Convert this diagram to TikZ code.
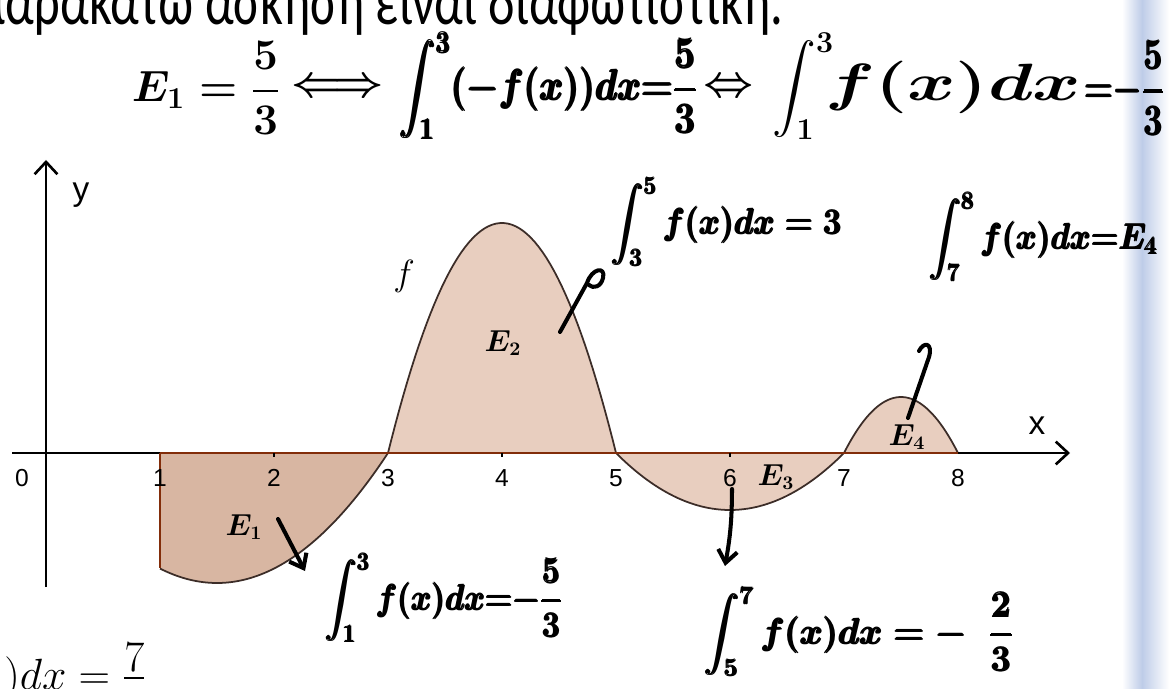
\documentclass[tikz,border=0pt]{standalone}
\usepackage{fontspec}
\usepackage{amsmath}
\usepackage{graphicx}
\usetikzlibrary{arrows.meta, calc}

\newfontfamily\greekfont{Carlito}
\newfontfamily\axisfont{Liberation Sans}

\definecolor{areadark}{RGB}{216,182,162}
\definecolor{arealight}{RGB}{232,206,191}
\definecolor{axisbrown}{RGB}{130,45,10}
\definecolor{curvegray}{RGB}{60,45,40}
\definecolor{barblue}{RGB}{190,204,232}

\begin{document}
\begin{tikzpicture}[
      x=0.02cm, y=-0.02cm,
      every node/.style={inner sep=0pt},
      ticklabel/.style={font=\axisfont\fontsize{14}{16}\selectfont},
      axislabel/.style={font=\axisfont\fontsize{19}{22}\selectfont},
      arealabel/.style={font=\fontsize{16}{18}\selectfont},
      hand/.style={font=\fontsize{22}{26}\selectfont\boldmath},
      handtop/.style={font=\fontsize{26}{30}\selectfont\boldmath},
      ink/.style={line width=2.3pt, line cap=round, line join=round},
      inkarrow/.style={ink, -{Straight Barb[length=7pt, width=11pt]}},
      axisline/.style={line width=1.5pt, -{Straight Barb[length=7pt, width=13pt]}},
      graph/.style={curvegray, line width=1pt}
  ]
  \useasboundingbox (0,0) rectangle (1171,689);
  \clip (0,0) rectangle (1171,689);

  % side bar of the slide
  \shade[left color=white, right color=barblue] (1122,0) rectangle (1142,689);
  \shade[left color=barblue, right color=white] (1142,0) rectangle (1169,689);

  % heading, cut off at the top
  \node[anchor=base west, font=\greekfont\fontsize{32}{36}\selectfont] (intro) at (-22,25)
        {\scalebox{0.9}[1.2]{παρακάτω άσκηση είναι διαφωτιστική.}};

  % areas
  \fill[areadark] (160,453) -- plot[domain=160:388, samples=60] (\x, {583-130*((\x-217)/171)*((\x-217)/171)}) -- cycle;
  \fill[arealight] plot[domain=388:616, samples=60] (\x, {453-230*(1-((\x-502)/114)*((\x-502)/114))}) -- cycle;
  \fill[arealight] plot[domain=616:844, samples=60] (\x, {453+57*(1-((\x-730)/114)*((\x-730)/114))}) -- cycle;
  \fill[arealight] plot[domain=844:958, samples=40] (\x, {453-56*(1-((\x-901)/57)*((\x-901)/57))}) -- cycle;

  % graph of f
  \draw[graph] plot[domain=160:388, samples=60] (\x, {583-130*((\x-217)/171)*((\x-217)/171)});
  \draw[graph] plot[domain=388:616, samples=60] (\x, {453-230*(1-((\x-502)/114)*((\x-502)/114))});
  \draw[graph] plot[domain=616:844, samples=60] (\x, {453+57*(1-((\x-730)/114)*((\x-730)/114))});
  \draw[graph] plot[domain=844:958, samples=40] (\x, {453-56*(1-((\x-901)/57)*((\x-901)/57))});

  % axes
  \draw[axisline] (12,453) -- (1070,453);
  \draw[axisline] (46,587) -- (46,160);
  \draw[axisbrown, line width=1.6pt] (160,453) -- (958,453);
  \draw[axisbrown, line width=0.7pt] (160,453) -- (160,568);
  \foreach \k in {2,4,6} \draw[line width=0.8pt] ({46+114*\k},453) -- ++(0,4);

  % tick labels
  \node[ticklabel] (n0) at (22,478) {0};
  \foreach \k in {1,...,8} \node[ticklabel] (n\k) at ({46+114*\k},478) {\k};
  \node[axislabel] (ylab) at (81,195) {y};
  \node[axislabel] (xlab) at (1037,426) {x};
  \node[font=\fontsize{22}{24}\selectfont] (flab) at (404,276) {$f$};

  % area names
  \node[arealabel] (e1) at (244,527) {$\boldsymbol{E_1}$};
  \node[arealabel] (e2) at (503,343) {$\boldsymbol{E_2}$};
  \node[arealabel] (e3) at (776,477) {$\boldsymbol{E_3}$};
  \node[arealabel] (e4) at (907,437) {$\boldsymbol{E_4}$};

  % handwritten notes, top line
  \node[handtop] (lhs) at (206,88) {$E_1 = \dfrac{5}{3}$};
  \node[handtop] (iffa) at (338,88) {$\Longleftrightarrow$};
  \node[font=\fontsize{24}{28}\selectfont, anchor=west] (inta) at (400,86)
        {\scalebox{0.83}[1]{\boldmath$\pmb{\displaystyle\int_1^3 (-f(x))dx {=} \dfrac{5}{3}}$}};
  \node[handtop] (iffb) at (729,88) {$\Leftrightarrow$};
  \node[handtop, anchor=west] (intb) at (772,86) {$\displaystyle\int_1^3\!\!\scalebox{1.68}[1.2]{$f(x)dx$}$};
  \node[handtop, anchor=east] (rhsb) at (1165,88) {\scalebox{0.75}[1]{$\pmb{{=}{-}\dfrac{5}{3}}$}};

  % handwritten notes at the areas
  \node[hand, anchor=west] (int35) at (612,222) {\scalebox{0.88}[1]{\boldmath$\pmb{\displaystyle\int_3^5 f(x)dx = 3}$}};
  \node[hand, anchor=west] (int78) at (930,237) {\scalebox{0.87}[1]{\boldmath$\pmb{\displaystyle\int_7^8 f(x)dx {=} E_4}$}};
  \node[hand, anchor=west] (int13) at (326,598) {\scalebox{0.86}[1]{\boldmath$\pmb{\displaystyle\int_1^3 f(x)dx {=} {-}\dfrac{5}{3}}$}};
  \node[hand, anchor=west] (int57) at (705,632) {\scalebox{0.96}[1]{\boldmath$\pmb{\displaystyle\int_5^7 f(x)dx = -\;\;\dfrac{2}{3}}$}};

  % pen strokes
  \coordinate (h1a) at (278,519);
  \coordinate (h1b) at (305,571);
  \draw[inkarrow] (h1a) -- (h1b);
  \coordinate (h2a) at (560,332);
  \coordinate (h2b) at (587,283);
  \draw[ink] (h2a) -- (h2b) .. controls (592,268) and (606,266) .. (603,278) .. controls (601,287) and (593,289) .. (589,285);
  \coordinate (h3a) at (732,489);
  \coordinate (h3b) at (725,566);
  \draw[inkarrow] (h3a) to[bend left=5] (h3b);
  \coordinate (h4a) at (908,418);
  \coordinate (h4b) at (929,357);
  \draw[ink] (h4a) -- (h4b) .. controls (933,343) and (924,341) .. (919,351);

  % last line, cut off at the bottom
  \node[anchor=base west, font=\fontsize{24}{28}\selectfont] (rest) at (4,689) {$)dx = \frac{\displaystyle 7}{\phantom{7}}$};
\end{tikzpicture}
\end{document}
